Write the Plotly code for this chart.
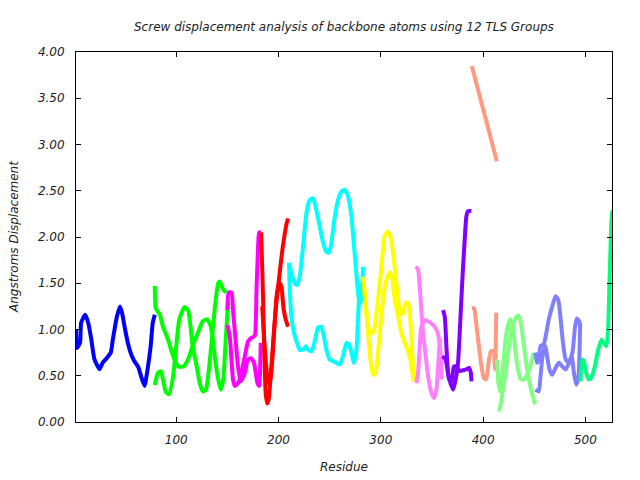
import plotly.graph_objects as go

# ---- data (residue, screw displacement in Angstroms) ----
g1a_res = [2, 3, 6, 7, 11, 14, 17, 20, 25, 28, 32, 36, 38, 42, 45, 47, 50, 53, 56, 59, 63, 66, 69, 72, 75, 77, 79]
g1a_val = [1.00, 0.80, 0.86, 1.07, 1.16, 1.07, 0.89, 0.68, 0.57, 0.64, 0.69, 0.75, 0.89, 1.14, 1.25, 1.18, 1.00, 0.84, 0.73, 0.66, 0.59, 0.48, 0.39, 0.57, 0.82, 1.07, 1.16]

g2a_res = [79, 80, 84, 87, 92, 97, 102, 107, 111.5, 116, 121, 126, 130, 133, 135, 138, 141, 143.5, 146, 148, 150, 151]
g2a_val = [1.47, 1.23, 1.16, 1.03, 0.89, 0.71, 0.60, 0.60, 0.675, 0.82, 0.96, 1.09, 1.11, 1.06, 0.96, 0.68, 0.46, 0.35, 0.46, 0.82, 1.18, 1.30]
g2b_res = [79, 82, 85, 87, 90, 93, 97, 100, 103, 108, 111.5, 114, 116, 120, 123, 126, 129, 133, 137.5, 141, 142.5, 146, 149]
g2b_val = [0.40, 0.53, 0.55, 0.46, 0.32, 0.30, 0.50, 0.82, 1.11, 1.24, 1.21, 1.03, 0.82, 0.60, 0.42, 0.33, 0.35, 0.68, 1.21, 1.50, 1.52, 1.43, 1.40]

g3a_res = [150, 151.3, 154, 155.5, 158, 160.4, 163, 167, 170, 173, 176, 179.4, 181, 182.6]
g3a_val = [1.21, 1.40, 1.40, 1.21, 0.89, 0.60, 0.44, 0.53, 0.675, 0.69, 0.64, 0.42, 0.39, 0.855]
g3b_res = [150, 152.3, 154, 155.5, 157.2, 160.4, 163.7, 167, 170.2, 173.5, 176.7, 178.4, 180, 181, 182.6]
g3b_val = [1.05, 0.93, 0.675, 0.46, 0.39, 0.42, 0.53, 0.71, 0.87, 0.91, 0.93, 1.40, 1.90, 2.05, 2.05]

g4a_res = [183, 184.5, 186, 187.5, 189, 190.5, 192, 194, 196, 198, 200, 202, 204, 206, 208, 209.3]
g4a_val = [2.05, 1.50, 0.80, 0.30, 0.20, 0.25, 0.45, 0.75, 1.05, 1.30, 1.50, 1.70, 1.88, 2.03, 2.15, 2.20]
g4b_res = [184, 186, 188, 190, 192, 194, 196, 198, 200, 201.5, 203, 205, 207, 209.3]
g4b_val = [1.25, 0.89, 0.60, 0.42, 0.46, 0.68, 1.03, 1.35, 1.47, 1.50, 1.45, 1.22, 1.11, 1.03]

g5a_res = [210.3, 212.6, 215.8, 218.1, 220.7, 224, 227.3, 230.5, 233.7, 237, 240.3, 243.5, 246.8, 249.4, 251.7, 255, 258.2, 261.5, 264.7, 268, 271.3, 273.5, 275.5, 277.1, 278.7, 280.4, 282, 282.6]
g5a_val = [1.72, 1.61, 1.50, 1.48, 1.57, 1.90, 2.26, 2.40, 2.42, 2.29, 2.11, 1.94, 1.84, 1.83, 1.94, 2.22, 2.40, 2.49, 2.51, 2.44, 2.22, 1.94, 1.68, 1.47, 1.32, 1.29, 1.50, 1.68]
g5b_res = [210.3, 211, 212.6, 215.2, 218.1, 220.7, 224, 226.6, 228.8, 232.2, 235.4, 238.6, 241.9, 244.2, 246.8, 250, 253.3, 256.6, 259.8, 263, 266.4, 268.9, 271.3, 273.8, 276.2, 277.8, 279.4, 281]
g5b_val = [1.72, 1.43, 1.14, 0.96, 0.855, 0.78, 0.78, 0.82, 0.78, 0.765, 0.87, 1.02, 1.03, 0.93, 0.78, 0.675, 0.66, 0.64, 0.62, 0.71, 0.855, 0.84, 0.75, 0.64, 0.78, 1.14, 1.43, 1.50]

g6a_res = [282.6, 284.3, 286.5, 289.2, 291.8, 294, 297.3, 300.6, 303.8, 306.5, 309.4, 312, 314.6, 317, 319.2, 321.8, 324.4, 326.6, 328.3, 330, 331.5, 333.2]
g6a_val = [1.57, 1.40, 1.14, 0.96, 0.96, 1.03, 1.32, 1.68, 2.01, 2.06, 2.01, 1.83, 1.57, 1.32, 1.16, 1.18, 1.29, 1.29, 1.18, 0.89, 0.60, 0.46]
g6b_res = [283.3, 285.2, 287.5, 289.8, 292.4, 295, 297.3, 299.6, 302.2, 305.5, 308.7, 311.3, 313.6, 317, 320.1, 323.4, 326.6, 328.9, 330.9, 332.2]
g6b_val = [1.47, 1.25, 0.96, 0.675, 0.51, 0.53, 0.75, 1.03, 1.32, 1.54, 1.62, 1.54, 1.32, 1.14, 0.96, 0.855, 0.765, 0.675, 0.53, 0.44]

g7a_res = [334.1, 336.4, 338, 339.6, 341.3, 343.9, 346.2, 349.5, 352, 354.4, 356, 357.6, 358.5]
g7a_val = [1.68, 1.65, 1.47, 1.21, 0.96, 0.71, 0.495, 0.315, 0.26, 0.35, 0.60, 0.855, 0.90]
g7b_res = [334.8, 336.4, 338, 339.6, 342.8, 346.2, 351, 354.4, 357, 358.7, 359.4]
g7b_val = [0.42, 0.53, 0.82, 1.03, 1.10, 1.09, 1.05, 1.00, 0.89, 0.71, 0.46]

g8a_res = [360.8, 362.5, 364.1, 365.7, 368.1, 370.7, 373.2, 375.5, 377.1, 378.7, 380.4, 382, 383.6, 385.2, 388.5]
g8a_val = [1.21, 1.14, 0.82, 0.53, 0.42, 0.35, 0.46, 0.64, 0.96, 1.32, 1.68, 1.97, 2.22, 2.28, 2.28]
g8b_res = [360.2, 362.5, 364.8, 366.8, 369.1, 371.4, 374, 377.3, 380.5, 383.8, 386.3, 388, 388.6]
g8b_val = [0.71, 0.69, 0.60, 0.46, 0.44, 0.60, 0.60, 0.55, 0.56, 0.57, 0.585, 0.53, 0.44]

g9a_res = [389, 401, 413.4]
g9a_val = [3.85, 3.34, 2.82]
g9b_res = [389, 391.3, 393.2, 395.5, 397.9, 400.5, 403, 405.3, 407.6, 410.2, 411.8, 412.8]
g9b_val = [1.23, 1.23, 1.07, 0.855, 0.64, 0.48, 0.46, 0.64, 0.765, 0.765, 0.57, 1.18]

g10a_res = [413.4, 415, 416.7, 419, 421.5, 424, 426.5, 429, 431.5, 434, 437, 440, 443, 446, 449.5]
g10a_val = [0.675, 0.42, 0.33, 0.55, 0.85, 1.03, 1.11, 1.03, 0.78, 0.57, 0.46, 0.46, 0.51, 0.60, 0.75]
g10b_res = [414, 416, 418.5, 421, 424, 427, 430, 432, 434.5, 437, 439, 442, 445, 448, 451]
g10b_val = [0.135, 0.135, 0.28, 0.46, 0.71, 0.95, 1.08, 1.13, 1.15, 1.07, 0.90, 0.65, 0.45, 0.30, 0.19]

g11a_res = [451.1, 452.8, 454.4, 456.1, 459.3, 461.7, 464.2, 467.6, 470.8, 473.5, 475.8, 478.1, 480.7, 484, 487.3, 489.9, 491.6, 493.9, 494.9]
g11a_val = [0.75, 0.64, 0.675, 0.82, 0.84, 0.96, 1.11, 1.25, 1.36, 1.32, 1.11, 0.855, 0.675, 0.64, 0.75, 1.03, 1.12, 1.09, 1.02]
g11b_res = [451.1, 454.4, 456.1, 457.7, 459.3, 461, 462.6, 464.9, 467.6, 470.8, 474.1, 477.4, 480.7, 484, 486.6, 488.8, 491, 493, 494.9]
g11b_val = [0.35, 0.33, 0.495, 0.675, 0.78, 0.82, 0.71, 0.567, 0.51, 0.585, 0.64, 0.60, 0.567, 0.64, 0.71, 0.53, 0.405, 0.46, 1.07]

g12a_res = [495.2, 496.8, 498.4, 500.8, 503.3, 505.9, 509.2, 512.5, 515.7, 518, 520.6, 522.3, 523.5, 524.5, 525.5, 526.5]
g12a_val = [0.44, 0.675, 0.66, 0.53, 0.46, 0.48, 0.60, 0.78, 0.89, 0.855, 0.82, 1.03, 1.50, 1.86, 2.19, 2.29]

group_colors = ["#0000ff", "#00ff00", "#ff00ff", "#ff0000", "#00ffff", "#ffff00",
                "#ff80ff", "#8000ff", "#ff9980", "#80ff80", "#8080ff", "#00ff80"]

series = [
    (g1a_res, g1a_val, 0),
    (g2a_res, g2a_val, 1), (g2b_res, g2b_val, 1),
    (g3a_res, g3a_val, 2), (g3b_res, g3b_val, 2),
    (g4a_res, g4a_val, 3), (g4b_res, g4b_val, 3),
    (g5a_res, g5a_val, 4), (g5b_res, g5b_val, 4),
    (g6a_res, g6a_val, 5), (g6b_res, g6b_val, 5),
    (g7a_res, g7a_val, 6), (g7b_res, g7b_val, 6),
    (g8a_res, g8a_val, 7), (g8b_res, g8b_val, 7),
    (g9a_res, g9a_val, 8), (g9b_res, g9b_val, 8),
    (g10a_res, g10a_val, 9), (g10b_res, g10b_val, 9),
    (g11a_res, g11a_val, 10), (g11b_res, g11b_val, 10),
    (g12a_res, g12a_val, 11),
]

title_text = "Screw displacement analysis of backbone atoms using 12 TLS Groups"
x_title = "Residue"
y_title = "Angstroms Displacement"
x_ticks = [100, 200, 300, 400, 500]
y_ticks = [0.0, 0.5, 1.0, 1.5, 2.0, 2.5, 3.0, 3.5, 4.0]

FONT = "DejaVu Sans"

fig = go.Figure()
for xs, ys, gi in series:
    fig.add_trace(go.Scatter(x=xs, y=ys, mode="lines",
                             line=dict(color=group_colors[gi], width=4,
                                       shape="spline", smoothing=0.5),
                             showlegend=False, hoverinfo="skip"))

axis_common = dict(showgrid=False, zeroline=False, showline=True, linecolor="black",
                   linewidth=1, mirror="ticks", ticks="inside", ticklen=5,
                   tickcolor="black", tickwidth=1, automargin=False,
                   tickfont=dict(family=FONT, size=12, color="#222", style="italic"))

# the page body adds an 8px offset, so the figure is sized to fit the window
fig.update_layout(
    width=632, height=472,
    margin=dict(l=68, r=28, t=44, b=58, autoexpand=False),
    paper_bgcolor="white", plot_bgcolor="white",
    xaxis=dict(range=[2, 526], tickvals=x_ticks, ticktext=[str(v) for v in x_ticks],
               ticklabelstandoff=7, **axis_common),
    yaxis=dict(range=[0, 4], tickvals=y_ticks, ticktext=["%.2f" % v for v in y_ticks],
               ticklabelstandoff=8, **axis_common),
    annotations=[
        dict(text=title_text, xref="paper", yref="paper", x=0.5, y=1, yshift=25,
             showarrow=False, xanchor="center", yanchor="middle",
             font=dict(family=FONT, size=12, color="#222", style="italic")),
        dict(text=x_title, xref="paper", yref="paper", x=0.5, y=0, yshift=-45,
             showarrow=False, xanchor="center", yanchor="middle",
             font=dict(family=FONT, size=12, color="#222", style="italic")),
        dict(text=y_title, xref="paper", yref="paper", x=0, y=0.5, xshift=-62,
             showarrow=False, xanchor="center", yanchor="middle", textangle=-90,
             font=dict(family=FONT, size=12, color="#222", style="italic")),
    ],
)

fig.write_html("out.html")
